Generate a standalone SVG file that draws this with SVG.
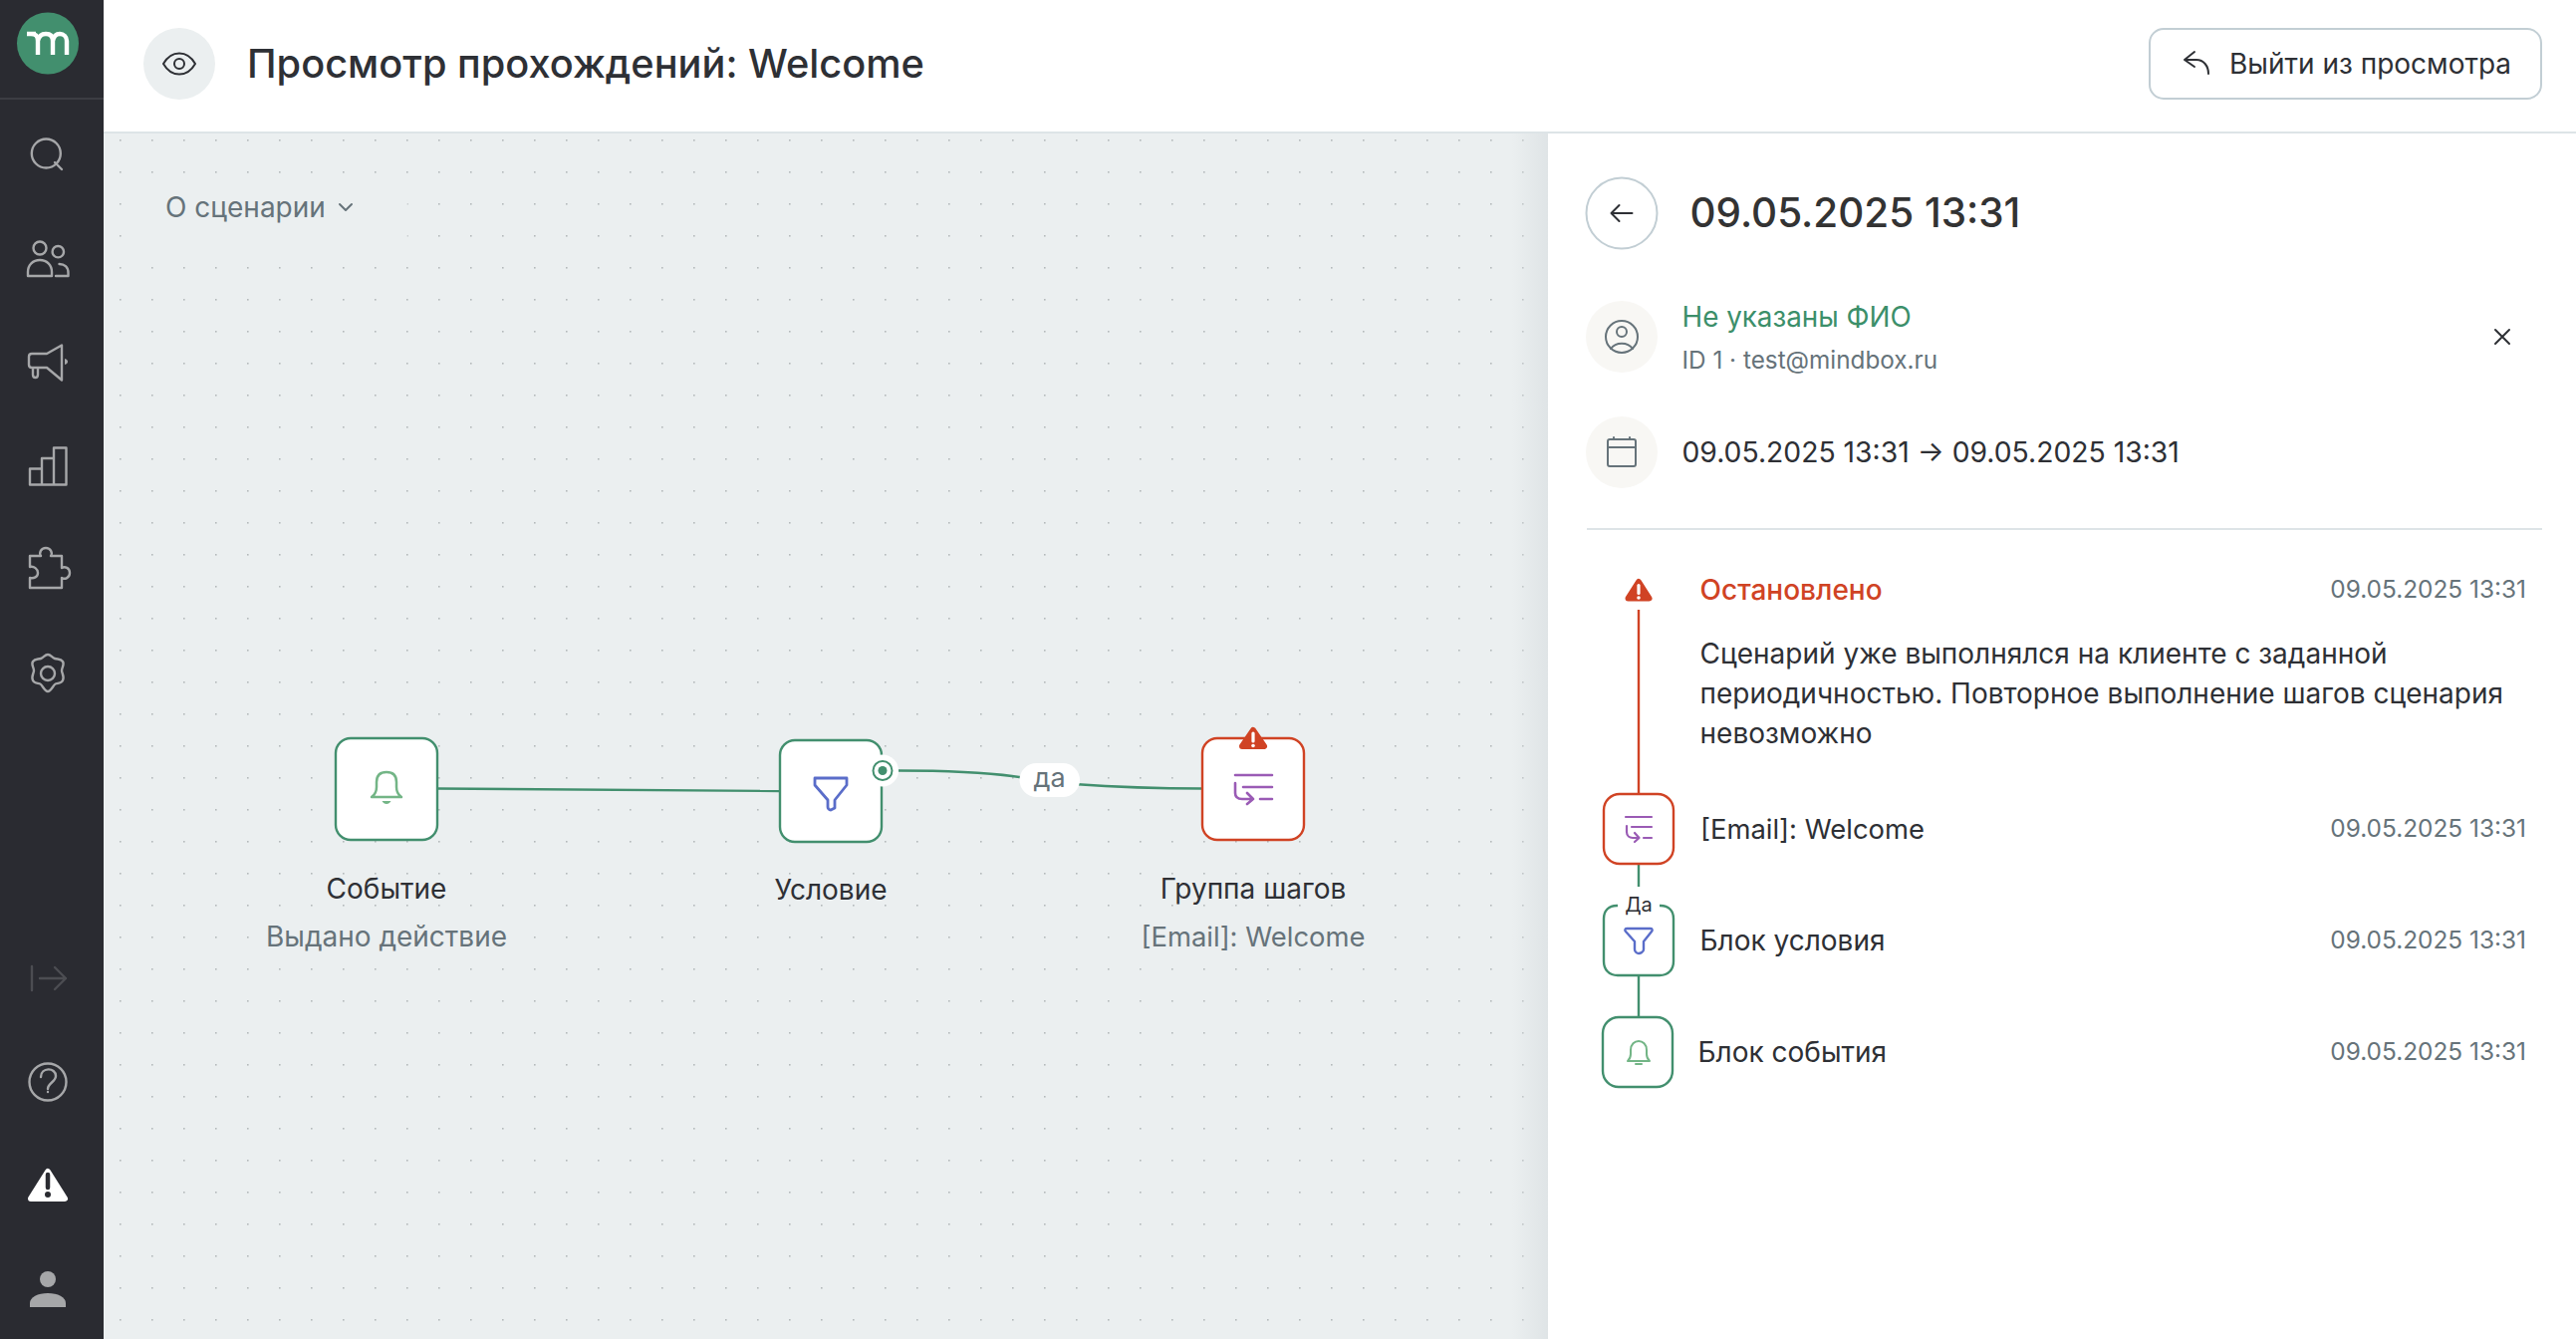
<svg xmlns="http://www.w3.org/2000/svg" width="2586" height="1344" viewBox="0 0 2586 1344">
<style>
text{font-family:"Inter","Liberation Sans",sans-serif;fill:#2e3035}
.sm{font-size:28px}
.lat{font-size:27.4px}
.mut{fill:#66737a}
.date{font-size:24.4px;fill:#66737a;text-anchor:end}
.mid{text-anchor:middle}
.nav{fill:none;stroke:#a6a7a9;stroke-width:2.4;stroke-linecap:round;stroke-linejoin:round}
.ic{fill:none;stroke-linecap:round;stroke-linejoin:round}
.node{fill:#fff;stroke-width:2.4}
.g{stroke:#428f6e}
.r{stroke:#d04324}
.warn{fill:#d04324;stroke:#d04324;stroke-width:6;stroke-linejoin:round}
</style>
<defs>
<pattern id="dots" x="120" y="140" width="32" height="32" patternUnits="userSpaceOnUse"><rect width="1.600" height="1.600" fill="#b4b9bb"/></pattern>
<linearGradient id="sh" x1="0" x2="1" y1="0" y2="0"><stop offset="0" stop-color="#dfe4e6" stop-opacity="0"/><stop offset="1" stop-color="#dfe4e6"/></linearGradient>
</defs>
<rect width="2586" height="1344" fill="#fff"/>
<g id="canvas">
<rect x="104" y="134" width="1450" height="1210" fill="#ebeff0"/>
<rect x="104" y="134" width="1450" height="1210" fill="url(#dots)"/>
<rect x="1518" y="134" width="36" height="1210" fill="url(#sh)"/>
<rect x="136" y="190" width="272.800" height="60" fill="#ebeff0"/>
<rect x="262" y="926" width="252" height="34" fill="#ebeff0"/>
<rect x="1140" y="926" width="236" height="34" fill="#ebeff0"/>
<text x="166" y="218" class="sm mut">О сценарии</text>
<path d="M341 205l6 6 6-6" class="ic" stroke="#66737a" stroke-width="2"/>
</g>
<g id="sidebar">
<rect width="104" height="1344" fill="#2a2b31"/>
<rect y="98" width="104" height="2" fill="#3c3d43"/>
<circle cx="48" cy="43.500" r="31" fill="#428f6e"/>
<path d="M27 34h9M31 34c5 0 7 2 7 7v14M38 41c1-5 4-7 8-7 5 0 7 3 7 7v14M53 41c1-5 3-7 7-7 4 0 7 3 7 7v14" fill="none" stroke="#fff" stroke-width="4.400"/>
<circle cx="46.300" cy="154" r="14.500" class="nav"/><path d="M55 163l7 7" class="nav"/>
<circle cx="40" cy="249" r="6.500" class="nav"/><path d="M28 277v-4c0-7 5-12 12-12s12 5 12 12v4z" class="nav"/>
<circle cx="58.300" cy="252.700" r="5.700" class="nav"/><path d="M56 277h12.500v-3c0-6-4-9-9-9" class="nav"/>
<path d="M62 346.500v35L47 369H32c-2 0-3-1-3-3v-8c0-2 1-3 3-3h15zM33 369v7c0 4 5 4 5 0v-6" class="nav"/><path d="M65 360c4 1 4 5 0 6z" fill="#a6a7a9"/>
<path d="M30 470.500h12v16H30zM42 460h12v26.500H42zM54 449.500h12.500v37H54z" class="nav"/>
<path d="M30 558h11c-2-3 0-8 5-8s7 5 5 8h11v12c3-2 8 0 8 5s-5 7-8 5v10H30v-10c4 1 8-1 8-5s-4-7-8-6z" class="nav"/>
<path d="M48 657c3 0 4 3 7 4s6 0 8 3-1 6-1 9 3 6 1 10-6 2-8 4-4 7-7 7-5-5-7-7-6 0-8-4 1-7 1-10-3-6-1-9 5-2 8-3 4-4 7-4z" class="nav"/><circle cx="48" cy="676" r="7" class="nav"/>
<path d="M32 970v24M40 982h26M55 971l11 11-11 11" class="nav" style="stroke:#4c4d52"/>
<circle cx="48" cy="1086" r="18.500" class="nav"/><path d="M41 1081c0-10 15-10 15-1 0 6-8 7-8 13" class="nav"/><circle cx="48" cy="1096" r="1.200" fill="#a6a7a9"/>
<path d="M48 1176L65 1203H31z" fill="#fff" stroke="#fff" stroke-width="6" stroke-linejoin="round"/><path d="M48 1179v13" stroke="#2a2b31" stroke-width="4.500" stroke-linecap="round"/><circle cx="48" cy="1199" r="3" fill="#2a2b31"/>
<circle cx="48" cy="1284" r="8" fill="#a6a7a9"/><path d="M30 1312v-4c0-6 8-10 18-10s18 4 18 10v4z" fill="#a6a7a9"/>
</g>
<g id="header">
<rect x="104" width="2482" height="132" fill="#fff"/>
<rect x="104" y="132" width="2482" height="2" fill="#dde4e7"/>
<circle cx="180" cy="64" r="36" fill="#ebeff0"/>
<path d="M164 64c8-14 24-14 32 0-8 14-24 14-32 0z" class="ic" stroke="#2e3035" stroke-width="2"/><circle cx="180" cy="64" r="5" class="ic" stroke="#2e3035" stroke-width="2"/>
<text x="248" y="78" font-size="39.750" font-weight="500">Просмотр прохождений: Welcome</text>
<rect x="2158" y="29" width="393" height="70" rx="14" fill="#fff" stroke="#c2ced4" stroke-width="2"/>
<path d="M2203 52l-10 8 10 7M2193 60h12c7 0 12 6 12 14" class="ic" stroke="#2e3035" stroke-width="2"/>
<text x="2238" y="74" class="sm">Выйти из просмотра</text>
</g>
<g id="connectors" fill="none" stroke="#428f6e" stroke-width="2.400">
<path d="M439 791.500L783 794"/>
<path d="M902 773.500C960 773.500 1000 776 1030 781M1078 787C1120 790 1160 791.500 1207 791.500"/>
</g>
<g id="edge-label">
<rect x="1023.500" y="766" width="60.500" height="34" rx="17" fill="#fff"/>
<text x="1053.500" y="790" class="mut mid" font-size="27">да</text>
</g>
<g id="node-event">
<rect x="337" y="741" width="102" height="102" rx="15" class="node g"/>
<path d="M373 800c3-2 5-5 5-10v-5c0-7 4-10 10-10s10 3 10 10v5c0 5 2 8 5 10z" class="ic" stroke="#73b586" stroke-width="2.500"/><path d="M383.500 804h9c-2 4-7 4-9 0z" fill="#73b586"/>
<text x="388" y="902" class="sm mid">Событие</text>
<text x="388" y="950" class="sm mut mid">Выдано действие</text>
</g>
<g id="node-condition">
<rect x="783" y="743" width="102" height="102" rx="15" class="node g"/>
<path d="M818 781h32v7l-12 15v8l-4 2c-2 0-3-2-3-3v-7l-13-15z" class="ic" stroke="#5a6dc9" stroke-width="2.800"/>
<circle cx="886" cy="773.500" r="16" fill="#fff"/><circle cx="886" cy="773.500" r="9.500" fill="#fff" stroke="#428f6e" stroke-width="2"/><circle cx="886" cy="773.500" r="4.500" fill="#428f6e"/>
<text x="834" y="903" class="sm mid">Условие</text>
</g>
<g id="node-group">
<rect x="1207" y="741" width="102" height="102" rx="15" class="node r"/>
<path d="M1240 778h37M1248 790h29M1265 802h12M1240 786v10c0 4 3 6 7 6h11M1252 796l6 6-6 5" class="ic" stroke="#9a5bb5" stroke-width="2.600"/>
<path d="M1258 733L1269 749H1247z" class="warn"/><path d="M1258 736v8" stroke="#fff" stroke-width="3.200" stroke-linecap="round"/><circle cx="1258" cy="748.500" r="1.800" fill="#fff"/>
<text x="1258" y="902" class="sm mid">Группа шагов</text>
<text x="1258" y="950" class="lat mut mid">[Email]: Welcome</text>
</g>
<g id="panel">
<rect x="1554" y="134" width="1032" height="1210" fill="#fff"/>
<circle cx="1628" cy="214" r="35.500" fill="#fff" stroke="#c2ced4" stroke-width="2"/>
<path d="M1638.500 214h-21M1625.500 206l-8 8 8 8" class="ic" stroke="#2e3035" stroke-width="2"/>
<text x="1696.500" y="228" font-size="40.400" font-weight="500" style="fill:#333">09.05.2025 13:31</text>
<circle cx="1628" cy="338" r="36" fill="#f8f7f4"/>
<circle cx="1628" cy="338" r="16" class="ic" stroke="#66737a" stroke-width="2"/><circle cx="1628" cy="333" r="5" class="ic" stroke="#66737a" stroke-width="2"/><path d="M1617 350c5-7 17-7 22 0" class="ic" stroke="#66737a" stroke-width="2"/>
<text x="1688.500" y="328" font-size="27.800" style="fill:#3c8f6a">Не указаны ФИО</text>
<text x="1688.500" y="370" font-size="24.300" class="mut">ID 1 · test@mindbox.ru</text>
<path d="M2505 331l14 14M2519 331l-14 14" class="ic" stroke="#2e3035" stroke-width="2"/>
<circle cx="1628" cy="454" r="36" fill="#f8f7f4"/>
<rect x="1614" y="441" width="28" height="27" rx="2" class="ic" stroke="#66737a" stroke-width="2"/><path d="M1614 449h28M1620 439v2M1636 439v2" class="ic" stroke="#66737a" stroke-width="2"/>
<text x="1688.500" y="464" font-size="28.300">09.05.2025 13:31 → 09.05.2025 13:31</text>
<rect x="1593" y="530" width="959" height="2" fill="#dde4e7"/>
<path d="M1645 612v184" stroke="#d04324" stroke-width="2.400"/>
<path d="M1645 867v23M1645 979v42" stroke="#428f6e" stroke-width="2.400"/>
<path d="M1645 584L1655.500 600.500H1634.500z" class="warn"/><path d="M1645 587.500v8" stroke="#fff" stroke-width="3.200" stroke-linecap="round"/><circle cx="1645" cy="600" r="1.800" fill="#fff"/>
<text x="1706.500" y="602" class="sm" font-weight="500" style="fill:#d04324">Остановлено</text>
<text x="2536" y="600" class="date">09.05.2025 13:31</text>
<text x="1706.500" y="666" class="sm">Сценарий уже выполнялся на клиенте с заданной</text>
<text x="1706.500" y="706" class="sm">периодичностью. Повторное выполнение шагов сценария</text>
<text x="1706.500" y="746" class="sm">невозможно</text>
</g>
<g id="step-group">
<rect x="1610" y="797" width="70" height="70" rx="16" fill="#fff" stroke="#d04324" stroke-width="2.400"/>
<path d="M1632 820h26M1638 830h20M1650 841h8M1633 829v6c0 4 3 6 6 6h6M1641 836l4.500 5-4.500 4" class="ic" stroke="#9a5bb5" stroke-width="2.200"/>
<text x="1707" y="842" class="lat">[Email]: Welcome</text>
<text x="2536" y="840" class="date">09.05.2025 13:31</text>
</g>
<g id="step-condition">
<path d="M1624 909h-1c-8 0-13 5-13 13v43c0 8 5 14 14 14h42c9 0 14-6 14-14v-43c0-8-5-13-13-13h-1" fill="#fff" stroke="#428f6e" stroke-width="2.400"/>
<text x="1645" y="915" class="mid" font-size="20">Да</text>
<path d="M1633 932h24c2 0 2 2 1 3l-8 10v8c0 3-4 4-5 4s-4-1-4-4v-8l-9-10c-1-1-1-3 1-3z" class="ic" stroke="#5a6dc9" stroke-width="2.400"/>
<text x="1706.500" y="954" class="sm">Блок условия</text>
<text x="2536" y="952" class="date">09.05.2025 13:31</text>
</g>
<g id="step-event">
<rect x="1609" y="1021" width="70" height="70" rx="16" fill="#fff" stroke="#428f6e" stroke-width="2.400"/>
<path d="M1634 1065h22c-2-2-3-4-3-7v-4c0-6-4-9-8-9s-8 3-8 9v4c0 3-1 5-3 7zM1642 1068h6" class="ic" stroke="#73b586" stroke-width="2"/>
<text x="1704.500" y="1066" class="sm">Блок события</text>
<text x="2536" y="1064" class="date">09.05.2025 13:31</text>
</g>
</svg>
